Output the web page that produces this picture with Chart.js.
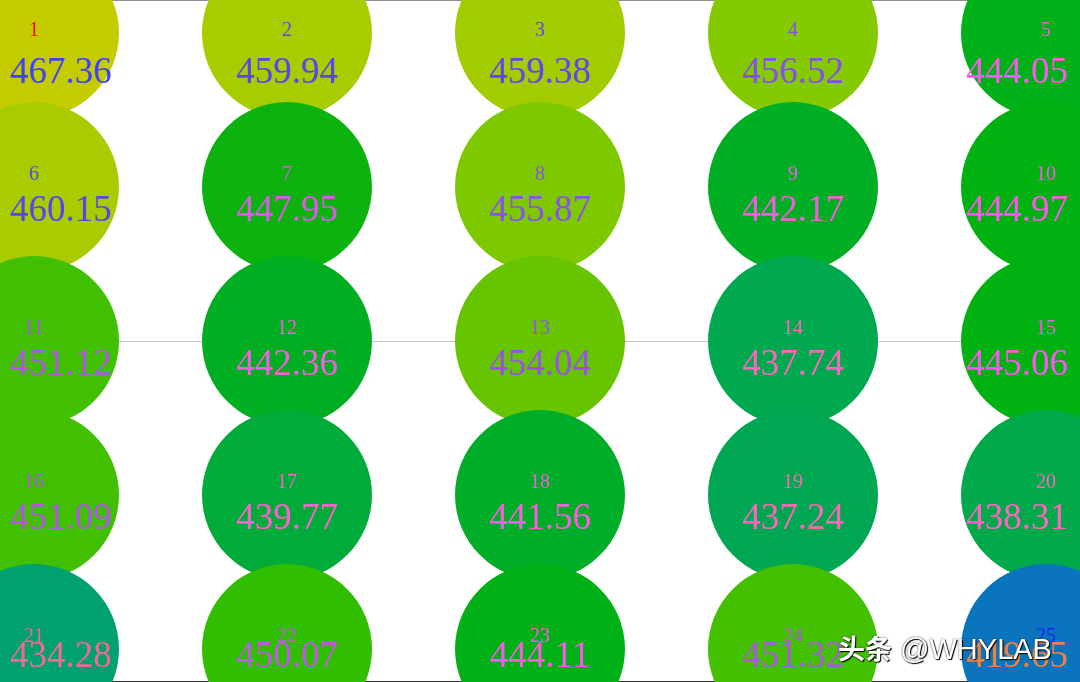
<!DOCTYPE html>
<html>
<head>
<meta charset="utf-8">
<script src="https://cdn.jsdelivr.net/npm/chart.js@4/dist/chart.umd.min.js"></script>
<style>
  body { margin: 0; background: #fff; }
  #wrap { position: relative; width: 1080px; height: 682px; overflow: hidden; }
  #mark {
    position: absolute; left: 838px; top: 630px;
    font-family: "Liberation Sans", "Noto Sans CJK SC", sans-serif;
    font-size: 29px; line-height: 36px; color: #fff;
    text-shadow: 1px 1px 1px #000, 0 0 2px #333;
    white-space: nowrap;
  }
  #mark b { font-family: "Noto Sans CJK SC", sans-serif; font-weight: 700; font-size: 27px; }
</style>
</head>
<body>
<div id="wrap">
  <canvas id="myChart"></canvas>
  <div id="mark"><b>头条</b> @WHYLAB</div>
</div>
<script>
// grid of 5 x 5 cells, numbered row by row
var columns = [1, 2, 3, 4, 5];
var rows = [1, 2, 3, 4, 5];
var values = [
    467.36, 459.94, 459.38, 456.52, 444.05,
    460.15, 447.95, 455.87, 442.17, 444.97,
    451.12, 442.36, 454.04, 437.74, 445.06,
    451.09, 439.77, 441.56, 437.24, 438.31,
    434.28, 450.07, 444.11, 451.32, 419.65
];

// colour stops (value -> colour) for the bubbles and the labels
var fillStops = [
    [419.65, [10, 116, 188]], [434.28, [0, 160, 112]], [438, [0, 169, 76]],
    [442, [0, 174, 36]], [445, [0, 177, 18]], [448, [13, 178, 14]],
    [450, [48, 189, 0]], [451.1, [64, 192, 0]], [454, [102, 196, 0]],
    [456, [128, 200, 0]], [460, [168, 204, 0]], [467.36, [196, 204, 0]]
];
var textStops = [
    [419.65, [240, 128, 64]], [434.28, [240, 106, 144]], [438, [255, 102, 192]],
    [442, [244, 94, 224]], [445, [255, 85, 238]], [448, [220, 90, 232]],
    [450, [192, 88, 232]], [451.1, [176, 85, 232]], [454, [154, 80, 240]],
    [456, [138, 80, 240]], [460, [90, 68, 240]], [467.36, [64, 64, 255]]
];

function pick(stops, v) {
    if (v <= stops[0][0]) return 'rgb(' + stops[0][1].join(',') + ')';
    for (var i = 1; i < stops.length; i++) {
        if (v <= stops[i][0]) {
            var a = stops[i - 1], b = stops[i];
            var t = (v - a[0]) / (b[0] - a[0]);
            var c = a[1].map(function (x, k) { return Math.round(x + (b[1][k] - x) * t); });
            return 'rgb(' + c.join(',') + ')';
        }
    }
    return 'rgb(' + stops[stops.length - 1][1].join(',') + ')';
}

var maxV = Math.max.apply(null, values);
var minV = Math.min.apply(null, values);
function indexColor(v) {
    if (v === maxV) return '#ff0000';
    if (v === minV) return '#2020ff';
    return pick(textStops, v);
}

var points = [];
rows.forEach(function (r) {
    columns.forEach(function (c) {
        points.push({ x: c, y: r });
    });
});

var labelPlugin = {
    id: 'cellLabels',
    afterDatasetsDraw: function (chart) {
        var ctx = chart.ctx;
        var meta = chart.getDatasetMeta(0);
        var W = chart.width, H = chart.height;
        ctx.save();
        ctx.textAlign = 'center';
        ctx.textBaseline = 'middle';
        meta.data.forEach(function (el, i) {
            var v = values[i];
            // index label
            ctx.font = '20px "Liberation Serif", "Times New Roman", serif';
            ctx.fillStyle = indexColor(v);
            ctx.fillText(String(i + 1), el.x, Math.max(el.y - 12, 31));
            // value label, kept inside the canvas
            ctx.font = '37px "Liberation Serif", "Times New Roman", serif';
            var txt = v.toFixed(2);
            var w = ctx.measureText(txt).width;
            var x = Math.min(Math.max(el.x, 10 + w / 2), W - 12 - w / 2);
            var y = Math.min(Math.max(el.y + 24, 73), H - 25);
            ctx.fillStyle = pick(textStops, v);
            ctx.fillText(txt, x, y);
        });
        ctx.restore();
    }
};

var xMin = 1 - 34 / 253, xMax = 5 + 34 / 253;
var yMin = 1 - 33 / 154, yMax = 5 + 33 / 154;

var chart = new Chart(document.getElementById('myChart'), {
    type: 'bubble',
    data: {
        datasets: [{
            data: points,
            radius: 85,
            borderWidth: 0,
            backgroundColor: values.map(function (v) { return pick(fillStops, v); })
        }]
    },
    options: {
        responsive: true,
        maintainAspectRatio: false,
        animation: false,
        events: [],
        clip: false,
        layout: { padding: 0, autoPadding: false },
        plugins: { legend: { display: false }, tooltip: { enabled: false } },
        scales: {
            x: { type: 'linear', min: xMin, max: xMax, display: false },
            y: {
                type: 'linear', min: yMin, max: yMax, reverse: true,
                afterBuildTicks: function (scale) {
                    scale.ticks = [{ value: yMin }, { value: 3 }, { value: yMax }];
                },
                ticks: { display: false },
                border: { display: false },
                grid: {
                    drawTicks: false,
                    color: function (c) {
                        if (c.tick.value === yMin) return '#8c8c8c';
                        if (c.tick.value === yMax) return '#333333';
                        return '#c4c4c4';
                    },
                    lineWidth: function (c) {
                        return c.tick.value === 3 ? 1 : 2;
                    }
                }
            }
        }
    },
    plugins: [labelPlugin]
});
</script>
</body>
</html>
